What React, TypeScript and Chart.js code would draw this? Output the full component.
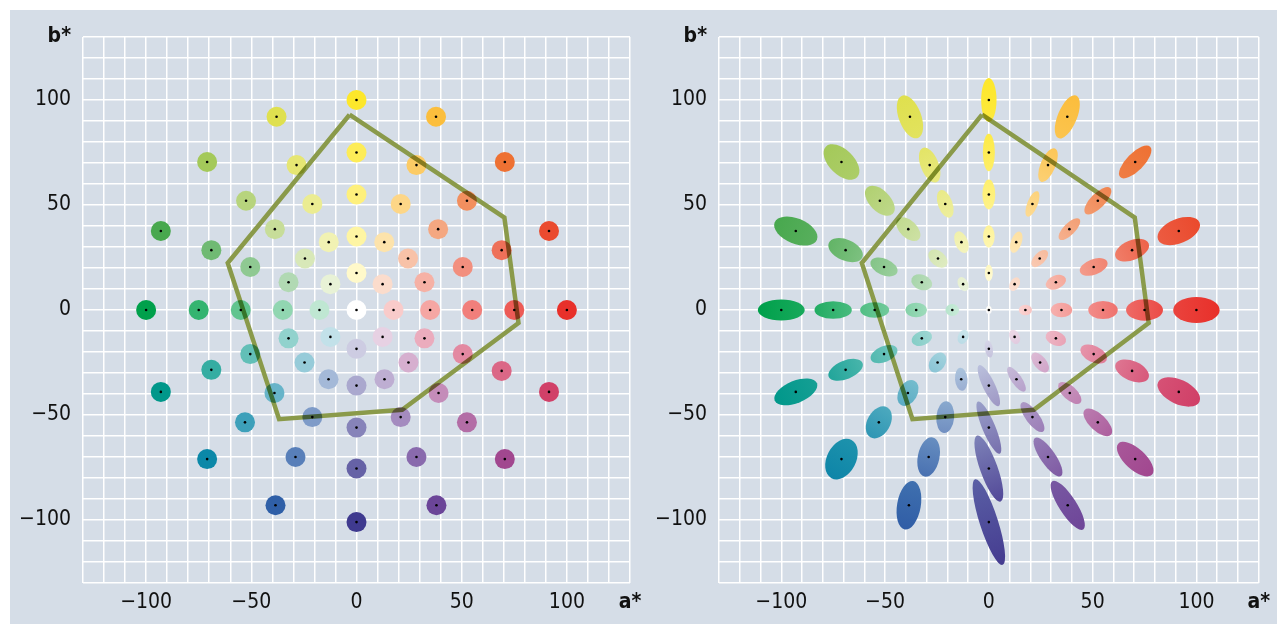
import React, { useEffect, useRef } from "react";
import { Chart, registerables } from "chart.js";
Chart.register(...registerables);

// Sample positions (a*, b*): rings of chroma 100, 75, 55, 35, 17.5 and the neutral point
const A_VALUES = [
  100, 91.5, 70.5, 37.8, 0, -38, -71, -93, -100, -93, -71, -38.5, 0, 38, 70.5, 91.5,
  75, 69, 52.5, 28.5, 0, -28.5, -52.5, -69, -75, -69, -53, -29, 0, 28.5, 52.5, 69,
  55, 50.5, 38.8, 21, 0, -21, -38.8, -50.5, -55, -50.5, -39, -21, 0, 21, 39, 50.5,
  35, 32.3, 24.5, 13.2, 0, -13.2, -24.5, -32.3, -35, -32.3, -24.7, -13.3, 0, 13.3, 24.7, 32.3,
  17.6, 12.4, 0, -12.4, -17.6, -12.4, 0, 12.4,
  0,
];
const B_VALUES = [
  0, 37.6, 70.5, 92, 100, 92, 70.5, 37.6, 0, -39, -71, -93, -101, -93, -71, -39,
  0, 28.5, 52, 69, 75, 69, 52, 28.5, 0, -28.5, -53.5, -70, -75.5, -70, -53.5, -29,
  0, 20.5, 38.5, 50.5, 55, 50.5, 38.5, 20.5, 0, -21, -39.5, -51, -56, -51, -39.5, -21,
  0, 13.2, 24.5, 32.3, 35, 32.3, 24.5, 13.2, 0, -13.5, -25, -33, -36, -33, -25, -13.5,
  0, 12.3, 17.6, 12.3, 0, -12.8, -18.5, -12.8,
  0,
];
// Tolerance ellipses (right panel): semi-axes in a*b* units and tilt of the first axis (deg)
const ELLIPSE_MAJOR = [
  11.2, 10.8, 10.2, 11, 10.5, 10.8, 10.5, 11, 11.3, 11, 10.3, 11.7, 21.4, 13.7, 11, 11,
  8.9, 8.6, 8.5, 8.6, 8.9, 8.8, 8.8, 8.8, 9, 8.8, 8.2, 9.5, 16.7, 11, 8.7, 8.6,
  7.1, 7, 6.8, 6.5, 7.1, 6.9, 7, 6.9, 7, 6.8, 6.6, 7.6, 13.5, 8.6, 6.9, 6.8,
  5.2, 5.1, 5.1, 5.3, 5.3, 5.4, 5.3, 5.2, 5.2, 5.1, 5.2, 5.5, 10.8, 7, 5.6, 5.1,
  3.2, 3.5, 3.9, 3.6, 3.3, 3.5, 4.2, 3.6,
  1.9,
];
const ELLIPSE_MINOR = [
  6.2, 5.8, 4.2, 4.6, 3.7, 5.4, 6, 6, 5, 5.3, 7, 5.7, 4.4, 4.2, 5, 5.8,
  5.1, 4.7, 3.5, 3.6, 2.9, 4.3, 5, 5, 4.2, 4.4, 5.5, 5.2, 4.2, 3.6, 4, 4.7,
  4.3, 3.7, 2.8, 2.5, 3.1, 3.5, 4.1, 3.9, 3.7, 3.8, 4.5, 4.3, 3.1, 3.2, 3.3, 3.9,
  3.5, 3.2, 2.7, 2.6, 2.8, 3.1, 3.5, 3.6, 3.5, 3.4, 3.7, 3, 2.9, 2.5, 3, 3.4,
  2.5, 2.3, 1.9, 2.4, 2.8, 2.5, 1.9, 2.4,
  1.4,
];
const ELLIPSE_ANGLE = [
  0, 22, 45, 67, 90, 111, 136, 158, 180, 22, 62, 80, 108, 123, 138, 155,
  0, 22, 45, 67, 90, 112, 135, 157, 180, 22, 60, 78, 110, 125, 137, 157,
  0, 20, 45, 68, 90, 110, 137, 157, 180, 22, 60, 85, 113, 127, 138, 155,
  0, 22, 45, 70, 90, 112, 140, 160, 180, 20, 55, 95, 116, 125, 130, 160,
  0, 60, 90, 118, 180, 65, 100, 115,
  90,
];
// Gamut polygon
const GAMUT_A = [-3.3, 70.3, 77, 21.7, -36.8, -61.2, -3.3];
const GAMUT_B = [93, 44, -6.2, -47.5, -52, 22.4, 93];
// Axis
const AXIS_MIN = -130;
const AXIS_MAX = 130;
const GRID_STEP = 10;
const TICK_LABELS = [-100, -50, 0, 50, 100];

// Colour of the chroma-100 samples, hue steps of 22.5 degrees
const HUE_COLORS = [
  "#e8302a", "#ea4a2d", "#ee7133", "#fbbd3c", "#fde72b", "#dfe04e", "#a5c95a", "#4aa84e",
  "#00a04b", "#00978a", "#0b88a8", "#2f5fa7", "#3f3a8f", "#6c4598", "#a1478f", "#d23f66",
];

const FONT_FAMILY = '"Liberation Sans Narrow", "DejaVu Sans Condensed", "Arial Narrow", sans-serif';
const BG = "#d5dde7";

function hexRgb(h: string): number[] {
  return [parseInt(h.slice(1, 3), 16), parseInt(h.slice(3, 5), 16), parseInt(h.slice(5, 7), 16)];
}
const HUE_RGB = HUE_COLORS.map(hexRgb);

function colorAt(a: number, b: number): string {
  const r = Math.hypot(a, b);
  const t = Math.pow(Math.min(r / 100, 1), 0.8);
  let ang = (Math.atan2(b, a) * 180) / Math.PI;
  if (ang < 0) ang += 360;
  const pos = ang / 22.5;
  const i0 = Math.floor(pos) % 16;
  const i1 = (i0 + 1) % 16;
  const f = pos - Math.floor(pos);
  const c = [0, 1, 2].map((k) => HUE_RGB[i0][k] * (1 - f) + HUE_RGB[i1][k] * f);
  const m = c.map((v) => Math.round(255 + (v - 255) * t));
  return `rgb(${m[0]},${m[1]},${m[2]})`;
}

function fmt(v: number): string {
  return v < 0 ? "\u2212" + Math.abs(v) : String(v);
}

const multiplyPlugin = {
  id: "gamutMultiply",
  beforeDatasetDraw(chart: any, args: any) {
    if (chart.data.datasets[args.index].label === "gamut") {
      chart.ctx.save();
      chart.ctx.globalCompositeOperation = "multiply";
    }
  },
  afterDatasetDraw(chart: any, args: any) {
    if (chart.data.datasets[args.index].label === "gamut") chart.ctx.restore();
  },
};

const ellipsePlugin = {
  id: "ellipses",
  beforeDatasetsDraw(chart: any) {
    if (!(chart.options.plugins as any).ellipses?.enabled) return;
    const xs = chart.scales.x;
    const ys = chart.scales.y;
    const ctx = chart.ctx as CanvasRenderingContext2D;
    const sx = xs.getPixelForValue(1) - xs.getPixelForValue(0);
    const sy = ys.getPixelForValue(0) - ys.getPixelForValue(1);
    for (let i = 0; i < A_VALUES.length; i++) {
      const a = A_VALUES[i];
      const b = B_VALUES[i];
      const maj = ELLIPSE_MAJOR[i];
      const mn = ELLIPSE_MINOR[i];
      const th = (ELLIPSE_ANGLE[i] * Math.PI) / 180;
      const ca = Math.cos(th);
      const sa = Math.sin(th);
      ctx.save();
      ctx.translate(xs.getPixelForValue(a), ys.getPixelForValue(b));
      ctx.scale(sx, -sy);
      ctx.rotate(th);
      const g = ctx.createLinearGradient(-maj, 0, maj, 0);
      g.addColorStop(0, colorAt(a - ca * maj, b - sa * maj));
      g.addColorStop(1, colorAt(a + ca * maj, b + sa * maj));
      ctx.beginPath();
      ctx.ellipse(0, 0, maj, mn, 0, 0, Math.PI * 2);
      ctx.fillStyle = g;
      ctx.fill();
      ctx.restore();
    }
  },
};

function makeConfig(withEllipses: boolean, yAxisWidth: number, padRight: number): any {
  const pts = A_VALUES.map((a, i) => ({ x: a, y: B_VALUES[i] }));
  const datasets: any[] = [
    {
      label: "gamut",
      data: GAMUT_A.map((a, i) => ({ x: a, y: GAMUT_B[i] })),
      showLine: true,
      borderColor: "#8a9a4a",
      borderWidth: 4.5,
      borderJoinStyle: "miter",
      pointRadius: 0,
      fill: false,
      tension: 0,
      order: 2,
    },
    {
      label: "centres",
      data: pts,
      pointRadius: 1.3,
      pointBackgroundColor: "#000",
      pointBorderWidth: 0,
      order: 1,
    },
  ];
  if (!withEllipses) {
    datasets.push({
      label: "samples",
      data: pts,
      pointRadius: 10,
      pointBackgroundColor: pts.map((p) => colorAt(p.x, p.y)),
      pointBorderWidth: 0,
      order: 3,
    });
  }
  const tickFont = (ctx: any) => ({
    family: FONT_FAMILY,
    size: 21,
    weight: ctx.tick && ctx.tick.value === AXIS_MAX ? "bold" : "normal",
  });
  const grid = { color: "#ffffff", lineWidth: 1.5, drawTicks: false };
  return {
    type: "scatter",
    data: { datasets },
    plugins: [ellipsePlugin, multiplyPlugin],
    options: {
      animation: false,
      responsive: false,
      events: [],
      layout: { padding: { top: 27, right: padRight, left: 0, bottom: 0 } },
      plugins: {
        legend: { display: false },
        tooltip: { enabled: false },
        ellipses: { enabled: withEllipses },
      },
      scales: {
        x: {
          type: "linear",
          min: AXIS_MIN,
          max: AXIS_MAX,
          border: { display: false },
          grid,
          afterFit: (s: any) => {
            s.height = 41;
          },
          ticks: {
            stepSize: GRID_STEP,
            autoSkip: false,
            maxRotation: 0,
            padding: 7,
            color: "#111",
            font: tickFont,
            callback: (v: number) => (v === AXIS_MAX ? "a*" : TICK_LABELS.includes(v) ? fmt(v) : ""),
          },
        },
        y: {
          type: "linear",
          min: AXIS_MIN,
          max: AXIS_MAX,
          border: { display: false },
          grid,
          afterFit: (s: any) => {
            s.width = yAxisWidth;
          },
          ticks: {
            stepSize: GRID_STEP,
            autoSkip: false,
            padding: 12,
            color: "#111",
            font: tickFont,
            callback: (v: number) => (v === AXIS_MAX ? "b*" : TICK_LABELS.includes(v) ? fmt(v) : ""),
          },
        },
      },
    },
  };
}

export default function App() {
  const leftRef = useRef<HTMLCanvasElement>(null);
  const rightRef = useRef<HTMLCanvasElement>(null);
  useEffect(() => {
    const c1 = new Chart(leftRef.current as HTMLCanvasElement, makeConfig(false, 73, 20));
    const c2 = new Chart(rightRef.current as HTMLCanvasElement, makeConfig(true, 69, 10));
    return () => {
      c1.destroy();
      c2.destroy();
    };
  }, []);
  return (
    <div
      style={{
        position: "absolute",
        left: 10,
        top: 10,
        width: 1267,
        height: 614,
        background: BG,
      }}
    >
      <canvas
        ref={leftRef}
        width={640}
        height={614}
        style={{ position: "absolute", left: 0, top: 0, width: 640, height: 614 }}
      />
      <canvas
        ref={rightRef}
        width={627}
        height={614}
        style={{ position: "absolute", left: 640, top: 0, width: 627, height: 614 }}
      />
    </div>
  );
}
